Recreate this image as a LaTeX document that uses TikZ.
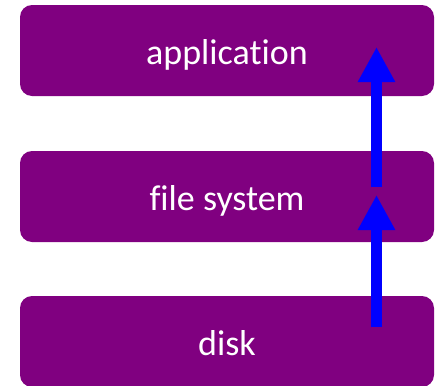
\documentclass[tikz,border=0pt]{standalone}
\usepackage{fontspec}
\setmainfont{Carlito}[Ligatures=NoCommon]
\usetikzlibrary{arrows.meta}

\definecolor{layerpurple}{RGB}{128,0,128}
\tikzset{
    layer/.style={fill=layerpurple, rounded corners=12pt,
        minimum width=414pt, minimum height=91pt, inner sep=0pt,
        text height=27pt, text depth=0pt,
        text=white, font=\fontsize{36}{42}\selectfont},
    upflow/.style={-{Triangle[length=35pt,width=35pt]}, line width=11pt, blue}
}

\begin{document}
\begin{tikzpicture}[x=1pt,y=-1pt]
            \useasboundingbox (0,0) rectangle (437,386);

            \node[layer] (app) at (227,50.5) {application};
            \node[layer] (fs) at (227,196.5) {file system};
            \node[layer] (disk) at (227,341.5) {disk};

            \coordinate (disktop) at (376.5,327);
            \coordinate (fstip) at (376.5,195);
            \coordinate (fstop) at (376.5,187);
            \coordinate (apptip) at (376.5,47);

            \draw[upflow] (disktop) -- (fstip);
            \draw[upflow] (fstop) -- (apptip);
        \end{tikzpicture}
\end{document}
